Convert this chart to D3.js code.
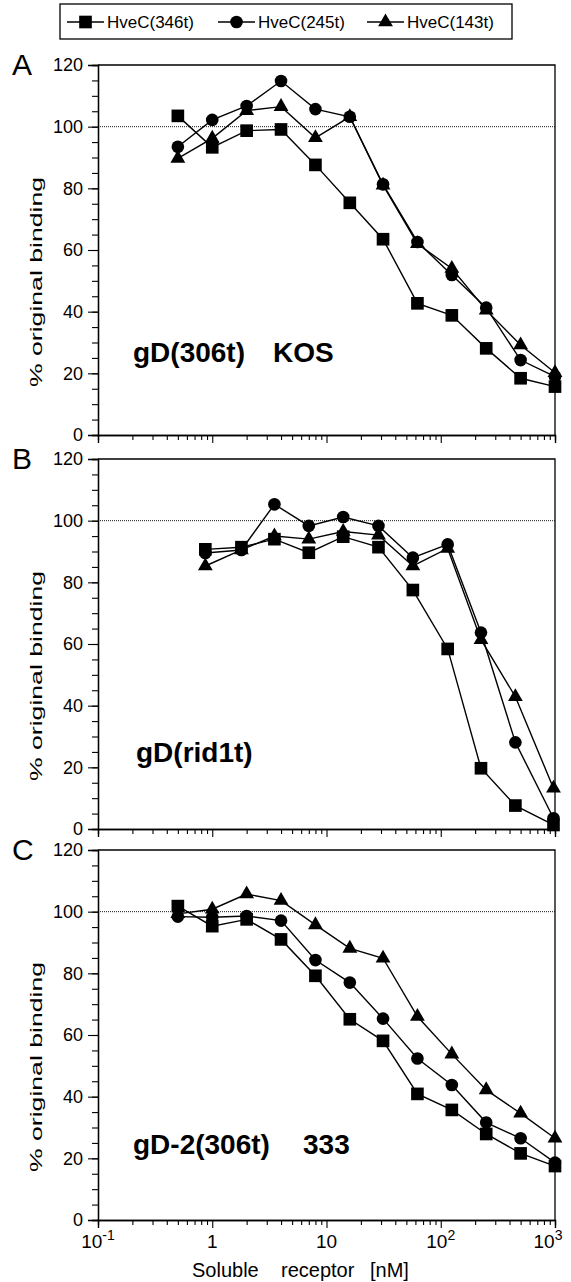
<!DOCTYPE html>
<html>
<head>
<meta charset="utf-8">
<script src="https://cdn.jsdelivr.net/npm/d3@7"></script>
<style>
  body { margin: 0; background: #fff; }
  svg { display: block; }
</style>
</head>
<body>
<svg id="chart" width="571" height="1282"></svg>
<script>
// concentrations (nM) and % original binding
const concA = [0.5, 1, 2, 4, 8, 16, 31.25, 62.5, 125, 250, 500, 1000];
const a346 = [103.5, 93.3, 98.7, 99.1, 87.6, 75.3, 63.5, 42.7, 38.8, 28.1, 18.4, 15.7];
const a245 = [93.5, 102.2, 106.7, 114.8, 105.7, 103.2, 81.3, 62.6, 51.9, 41.3, 24.3, 18.9];
const a143 = [89.7, 96.2, 105.2, 106.5, 96.4, 103.2, 81, 62, 54, 40.5, 29.2, 20.2];

const concB = [0.87, 1.8, 3.5, 7, 14, 28.5, 57, 115, 225, 450, 970];
const b346 = [90.7, 91.4, 94, 89.6, 94.8, 91.4, 77.5, 58.4, 19.7, 7.6, 1.3];
const b245 = [89.5, 90.5, 105.3, 98.3, 101.2, 98.3, 88, 92.3, 63.7, 28.1, 3.5];
const b143 = [85.3, 90.5, 95, 94, 96.5, 95.3, 85.3, 91, 61.4, 42.9, 13.2];

const concC = [0.5, 1, 2, 4, 8, 16, 31.25, 62.5, 125, 250, 500, 1000];
const c346 = [101.8, 95.3, 97.5, 91, 79.2, 65.1, 58.1, 40.9, 35.7, 27.9, 21.6, 17.5];
const c245 = [98.4, 98.2, 98.6, 97.1, 84.3, 77, 65.3, 52.4, 43.8, 31.6, 26.5, 18.6];
const c143 = [99.3, 100.8, 105.7, 103.6, 95.7, 88.1, 84.9, 66, 53.8, 42.2, 34.6, 26.5];

const seriesNames = ["HveC(346t)", "HveC(245t)", "HveC(143t)"];
const xTickExp = [-1, 0, 1, 2, 3];

const panels = [
  { letter: "A", top: 65, conc: concA, vals: [a346, a245, a143], labels: [["gD(306t)", 133], ["KOS", 273]], labelY: 362, xLabels: false },
  { letter: "B", top: 459, conc: concB, vals: [b346, b245, b143], labels: [["gD(rid1t)", 136]], labelY: 762, xLabels: false },
  { letter: "C", top: 850, conc: concC, vals: [c346, c245, c143], labels: [["gD-2(306t)", 133], ["333", 303]], labelY: 1154, xLabels: true }
];

const font = "'Liberation Sans', Arial, Helvetica, sans-serif";
const left = 98, right = 555, ph = 370;

const svg = d3.select("#chart").style("font-family", font);

const x = d3.scaleLog().domain([0.1, 1000]).range([left, right]);

const symbols = [
  d3.symbol().type(d3.symbolSquare).size(160),
  d3.symbol().type(d3.symbolCircle).size(125),
  d3.symbol().type(d3.symbolTriangle).size(95)
];

// minor log ticks
const majorX = xTickExp.map(e => Math.pow(10, e));
const minorX = [];
for (let e = -1; e < 3; e++) {
  for (let k = 2; k <= 9; k++) minorX.push(k * Math.pow(10, e));
}

panels.forEach(p => {
  const y = d3.scaleLinear().domain([0, 120]).range([p.top + ph, p.top]);
  const g = svg.append("g");

  // frame top + right
  g.append("path")
    .attr("d", `M${left},${p.top}H${right}V${p.top + ph}`)
    .attr("fill", "none").attr("stroke", "#000").attr("stroke-width", 1.3);

  // y axis
  const yMinor = g.append("g").attr("transform", `translate(${left},0)`)
    .call(d3.axisLeft(y).tickValues(d3.range(0, 121, 5)).tickSize(6).tickFormat(""));
  const yMajor = g.append("g").attr("transform", `translate(${left},0)`)
    .call(d3.axisLeft(y).tickValues(d3.range(0, 121, 20)).tickSize(10).tickPadding(5));
  yMajor.selectAll("text").style("font-size", "18px").style("font-family", font).attr("fill", "#000");

  // x axis
  const xMinor = g.append("g").attr("transform", `translate(0,${p.top + ph})`)
    .call(d3.axisBottom(x).tickValues(minorX).tickSize(5).tickFormat(""));
  const xMajor = g.append("g").attr("transform", `translate(0,${p.top + ph})`)
    .call(d3.axisBottom(x).tickValues(majorX).tickSize(8).tickFormat(""));

  [yMinor, yMajor, xMinor, xMajor].forEach(a => {
    a.select(".domain").attr("stroke-width", 1.3);
    a.selectAll(".tick line").attr("stroke-width", 1.1);
  });

  // 100% reference line
  g.append("line")
    .attr("x1", left).attr("x2", right)
    .attr("y1", y(100)).attr("y2", y(100))
    .attr("stroke", "#000").attr("stroke-width", 0.9)
    .attr("stroke-dasharray", "1,1");

  // series lines
  const line = d3.line().x(d => x(d[0])).y(d => y(d[1]));
  p.vals.forEach(v => {
    g.append("path")
      .datum(p.conc.map((c, i) => [c, v[i]]))
      .attr("d", line)
      .attr("fill", "none").attr("stroke", "#000").attr("stroke-width", 1.4);
  });

  // markers (triangles, circles, then squares on top)
  [2, 1, 0].forEach(si => {
    g.selectAll(null)
      .data(p.conc.map((c, i) => [c, p.vals[si][i]]))
      .enter().append("path")
      .attr("d", symbols[si])
      .attr("transform", d => `translate(${x(d[0])},${y(d[1])})`)
      .attr("fill", "#000");
  });

  // panel letter
  svg.append("text")
    .attr("x", 12).attr("y", p.top + 10)
    .style("font-size", "30px")
    .text(p.letter);

  // y label
  svg.append("text")
    .attr("transform", `translate(42,${p.top + 217}) rotate(-90)`)
    .attr("text-anchor", "middle")
    .attr("textLength", 210)
    .attr("lengthAdjust", "spacingAndGlyphs")
    .style("font-size", "17px")
    .text("% original binding");

  // in-panel labels
  p.labels.forEach(([t, lx]) => {
    svg.append("text")
      .attr("x", lx).attr("y", p.labelY)
      .style("font-size", "28px").style("font-weight", "bold")
      .text(t);
  });

  // x tick labels
  if (p.xLabels) {
    xTickExp.forEach(e => {
      const t = svg.append("text")
        .attr("x", x(Math.pow(10, e)) - (e === 3 ? 7 : 0))
        .attr("y", p.top + ph + 28)
        .attr("text-anchor", "middle")
        .style("font-size", "19px");
      if (e === 0) t.text("1");
      else if (e === 1) t.text("10");
      else {
        t.append("tspan").text("10");
        t.append("tspan").attr("dy", -8).style("font-size", "14px").text(String(e));
      }
    });
  }
});

// x axis title
[["Soluble", 192], ["receptor", 281], ["[nM]", 370]].forEach(([t, tx]) => {
  svg.append("text").attr("x", tx).attr("y", 1277)
    .style("font-size", "20px").text(t);
});

// legend
const leg = svg.append("g");
leg.append("rect").attr("x", 60).attr("y", 4).attr("width", 452).attr("height", 35)
  .attr("fill", "#fff").attr("stroke", "#000").attr("stroke-width", 1.3);
const legX = [67, 218, 367];
seriesNames.forEach((name, i) => {
  const lx = legX[i];
  leg.append("line").attr("x1", lx).attr("x2", lx + 37).attr("y1", 22).attr("y2", 22)
    .attr("stroke", "#000").attr("stroke-width", 1.3);
  leg.append("path").attr("d", symbols[i]).attr("transform", `translate(${lx + 18.5},22)`).attr("fill", "#000");
  leg.append("text").attr("x", lx + 40).attr("y", 28).style("font-size", "17px").text(name);
});
</script>
</body>
</html>
